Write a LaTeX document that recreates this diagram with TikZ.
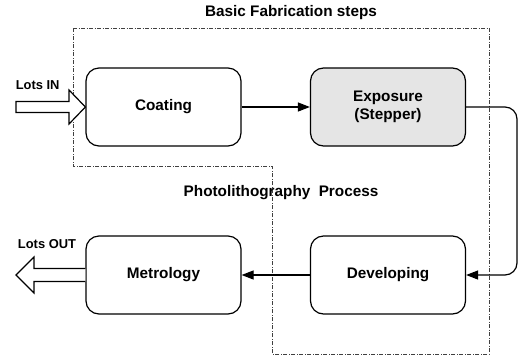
\documentclass[tikz,border=0pt]{standalone}
\usepackage{fontspec}
\setmainfont{Liberation Sans}
\usetikzlibrary{arrows.meta}
\tikzset{
  stepbox/.style={draw, line width=1.2pt, rounded corners=13pt, minimum width=155pt, minimum height=78pt, align=center, font=\bfseries\fontsize{15.3}{18.5}\selectfont, inner sep=0pt},
  frame/.style={draw=black!75, line width=0.8pt, dash pattern=on 4pt off 1.5pt on 1pt off 1.5pt},
  conn/.style={line width=1.2pt, -{Triangle[length=12pt,width=9pt]}},
  fat/.style={draw, line width=1.2pt, fill=white, line join=miter},
  lbl/.style={font=\bfseries\fontsize{12.9}{15}\selectfont, inner sep=0pt},
  ttl/.style={font=\bfseries\fontsize{15.3}{18}\selectfont, inner sep=0pt}
}
\begin{document}
\begin{tikzpicture}[x=1pt,y=-1pt]
\useasboundingbox (0,0) rectangle (519,357);
\draw[frame] (73,28) -- (489,28) -- (489,354) -- (272,354) -- (272,166) -- (73,166) -- cycle;
\node[stepbox] (coat) at (163.5,107) {Coating};
\node[stepbox, fill=black!10] (expo) at (388,107) {Exposure\\(Stepper)};
\node[stepbox] (dev) at (388,275) {Developing};
\node[stepbox] (met) at (163.5,275) {Metrology};
\coordinate (turn) at (517,191);
\draw[conn] (coat) -- (expo);
\draw[conn, rounded corners=12pt] (expo.east) -| (turn) |- (dev.east);
\draw[conn] (dev) -- (met);
\draw[fat] (16,101.5) -- (69,101.5) -- (69,90) -- (coat.west) -- (69,124) -- (69,112.5) -- (16,112.5) -- cycle;
\draw[fat] ([yshift=6.5pt]met.west) -- (34,268.5) -- (34,257) -- (16,275) -- (34,293) -- (34,281.5) -- ([yshift=-6.5pt]met.west);
\node[lbl] (lin) at (37.7,85.5) {Lots IN};
\node[lbl] (lout) at (47,244) {Lots OUT};
\node[ttl] (title) at (291,13) {Basic Fabrication steps};
\node[ttl] (photo) at (281,193) {Photolithography\hspace{0.55em}Process};
\end{tikzpicture}
\end{document}
